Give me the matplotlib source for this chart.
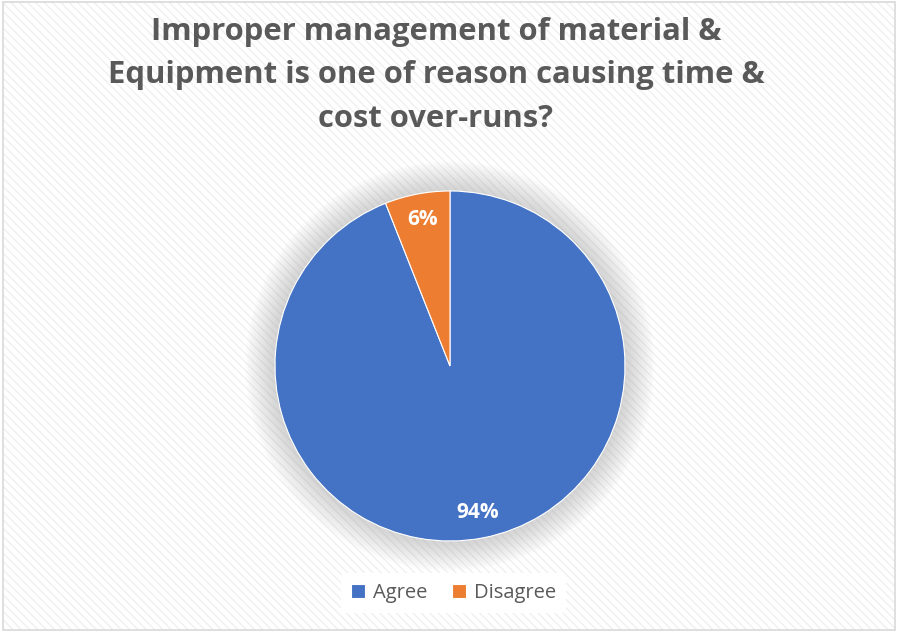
import matplotlib.pyplot as plt
from matplotlib.patches import Circle, Rectangle

# Survey answers
labels = ['Agree', 'Disagree']
shares = [94, 6]
colors = ['#4472C4', '#ED7D31']
title = ('Improper management of material &\n'
         'Equipment is one of reason causing time &\n'
         'cost over-runs?')

plt.rcParams['font.family'] = ['Open Sans', 'DejaVu Sans']

fig = plt.figure(figsize=(8.98, 6.32), dpi=100)
fig.patch.set_facecolor('white')

# faint diagonal stripes on the chart area, thin grey frame round it
fig.patches.append(Rectangle((0.003, 0.003), 0.994, 0.994, transform=fig.transFigure,
                             facecolor='white', edgecolor='#f0f0f0', hatch='\\\\\\\\',
                             linewidth=0, zorder=-3))
fig.patches.append(Rectangle((0.003, 0.003), 0.994, 0.994, transform=fig.transFigure,
                             fill=False, edgecolor='#d9d9d9', linewidth=1.2, zorder=-2))

ax = fig.add_axes([0.3062, 0.144, 0.3898, 0.5538])
ax.patch.set_visible(False)

# soft shadow behind the pie
for i in range(14):
    r = 1.0 + 0.012 * (i + 1)
    ax.add_patch(Circle((0, 0), r, facecolor='#9a9a9a', edgecolor='none',
                        alpha=0.03, zorder=0, clip_on=False))
ax.add_patch(Circle((0, 0), 1.0, facecolor='white', edgecolor='none', zorder=0.5))

wedges, _, autotexts = ax.pie(shares, colors=colors, startangle=90, counterclock=False,
                              autopct='%d%%', pctdistance=0.85,
                              wedgeprops=dict(edgecolor='white', linewidth=0.8))
for w in wedges:
    w.set_zorder(2)
for t in autotexts:
    t.set_color('white')
    t.set_fontsize(15)
    t.set_fontweight('bold')
    t.set_zorder(3)
ax.set_xlim(-1, 1)
ax.set_ylim(-1, 1)
ax.set_aspect('equal')
ax.axis('off')

fig.text(0.4855, 0.881, title, ha='center', va='center', fontsize=22.3,
         fontweight='bold', color='#595959', linespacing=1.58)

leg = fig.legend(wedges, labels, loc='center', bbox_to_anchor=(0.505, 0.062), ncol=2,
                 frameon=True, fontsize=14.5, handlelength=0.7, handleheight=0.7,
                 handletextpad=0.4, columnspacing=1.2, borderpad=0.5)
leg.get_frame().set_facecolor('white')
leg.get_frame().set_edgecolor('none')
leg.get_frame().set_alpha(1)
for txt in leg.get_texts():
    txt.set_color('#595959')

fig.savefig('out.png', dpi=100)
